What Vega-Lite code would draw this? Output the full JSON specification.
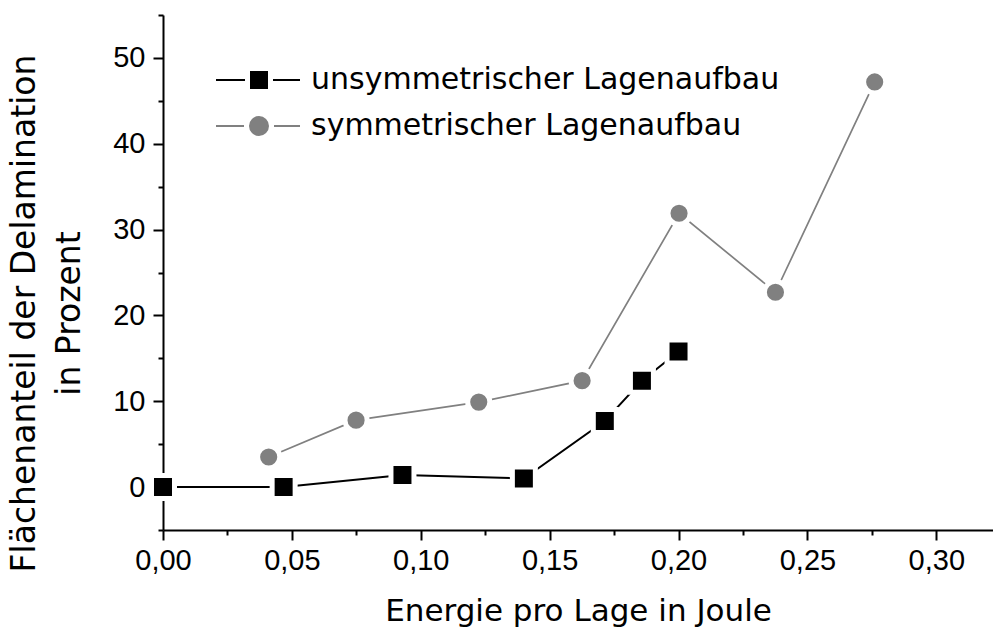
{
  "$schema": "https://vega.github.io/schema/vega-lite/v6.json",
  "width": 830,
  "height": 515,
  "autosize": {"type": "none"},
  "padding": {"left": 163, "top": 15, "right": 0, "bottom": 98},
  "background": "white",
  "config": {
    "view": {"stroke": null},
    "font": "Liberation Sans",
    "axis": {
      "grid": false,
      "domainColor": "black",
      "domainWidth": 2,
      "tickColor": "black",
      "tickWidth": 2,
      "labelColor": "black",
      "titleColor": "black",
      "labelFont": "Liberation Sans",
      "titleFont": "DejaVu Sans",
      "labelFontSize": 29,
      "titleFontWeight": "normal",
      "labelOverlap": false,
      "labelFlush": false
    }
  },
  "data": {
    "values": [
      {"reihe": "unsymmetrischer Lagenaufbau", "energie": 0.0, "anteil": 0.0},
      {"reihe": "unsymmetrischer Lagenaufbau", "energie": 0.0468, "anteil": 0.0},
      {"reihe": "unsymmetrischer Lagenaufbau", "energie": 0.0929, "anteil": 1.4},
      {"reihe": "unsymmetrischer Lagenaufbau", "energie": 0.14, "anteil": 1.0},
      {"reihe": "unsymmetrischer Lagenaufbau", "energie": 0.1714, "anteil": 7.7},
      {"reihe": "unsymmetrischer Lagenaufbau", "energie": 0.1858, "anteil": 12.4},
      {"reihe": "unsymmetrischer Lagenaufbau", "energie": 0.2, "anteil": 15.8},
      {"reihe": "symmetrischer Lagenaufbau", "energie": 0.041, "anteil": 3.5},
      {"reihe": "symmetrischer Lagenaufbau", "energie": 0.0749, "anteil": 7.8},
      {"reihe": "symmetrischer Lagenaufbau", "energie": 0.1225, "anteil": 9.9},
      {"reihe": "symmetrischer Lagenaufbau", "energie": 0.1626, "anteil": 12.4},
      {"reihe": "symmetrischer Lagenaufbau", "energie": 0.2002, "anteil": 31.9},
      {"reihe": "symmetrischer Lagenaufbau", "energie": 0.2376, "anteil": 22.7},
      {"reihe": "symmetrischer Lagenaufbau", "energie": 0.2761, "anteil": 47.2}
    ]
  },
  "encoding": {
    "x": {
      "field": "energie",
      "type": "quantitative",
      "scale": {"domain": [0, 0.322], "nice": false, "zero": false},
      "axis": {
        "title": "Energie pro Lage in Joule",
        "titleFontSize": 31,
        "values": [0, 0.025, 0.05, 0.075, 0.1, 0.125, 0.15, 0.175, 0.2, 0.225, 0.25, 0.275, 0.3],
        "labelExpr": "abs(datum.value * 20 - round(datum.value * 20)) < 0.001 ? replace(format(datum.value, '.2f'), '.', ',') : ''",
        "tickSize": {"condition": {"test": "abs(datum.value * 20 - round(datum.value * 20)) < 0.001", "value": 10}, "value": 5},
        "labelPadding": 6,
        "titlePadding": 21
      }
    },
    "y": {
      "field": "anteil",
      "type": "quantitative",
      "scale": {"domain": [-5, 55], "nice": false, "zero": false},
      "axis": {
        "title": ["Flächenanteil der Delamination", "in Prozent"],
        "titleFontSize": 33,
        "values": [-5, 0, 5, 10, 15, 20, 25, 30, 35, 40, 45, 50, 55],
        "labelExpr": "datum.value % 10 === 0 ? datum.label : ''",
        "tickSize": {"condition": {"test": "datum.value % 10 === 0", "value": 10}, "value": 5},
        "labelPadding": 8,
        "titlePadding": 26,
        "titleY": 298,
        "titleLineHeight": 45
      }
    },
    "color": {
      "field": "reihe",
      "type": "nominal",
      "scale": {
        "domain": ["unsymmetrischer Lagenaufbau", "symmetrischer Lagenaufbau"],
        "range": ["#000000", "#808080"]
      },
      "legend": {
        "title": null,
        "orient": "none",
        "legendX": 81,
        "legendY": 50,
        "padding": 0,
        "labelFont": "DejaVu Sans",
        "labelFontSize": 30,
        "labelColor": "black",
        "labelLimit": 0,
        "labelOffset": 37,
        "symbolSize": 400,
        "rowPadding": 16,
        "encode": {
          "symbols": {
            "update": {
              "shape": {"signal": "datum.value === 'unsymmetrischer Lagenaufbau' ? 'M-4.3,0H-1.4M1.4,0H4.1M-0.8,-0.8H0.8V0.8H-0.8Z' : 'M-4.3,0H-1.5M1.5,0H4.1M-0.9,0A0.9,0.9,0,1,0,0.9,0A0.9,0.9,0,1,0,-0.9,0Z'"},
              "fill": {"signal": "datum.value === 'unsymmetrischer Lagenaufbau' ? '#000000' : '#808080'"},
              "stroke": {"signal": "datum.value === 'unsymmetrischer Lagenaufbau' ? '#000000' : '#808080'"},
              "strokeWidth": {"value": 2},
              "size": {"value": 400},
              "opacity": {"value": 1}
            }
          }
        }
      }
    }
  },
  "layer": [
    {
      "transform": [{"filter": "datum.reihe === 'unsymmetrischer Lagenaufbau'"}],
      "mark": {"type": "line", "strokeWidth": 2}
    },
    {
      "transform": [{"filter": "datum.reihe === 'symmetrischer Lagenaufbau'"}],
      "mark": {"type": "line", "strokeWidth": 1.7}
    },
    {
      "transform": [{"filter": "datum.reihe === 'unsymmetrischer Lagenaufbau'"}],
      "mark": {"type": "point", "shape": "square", "filled": true, "size": 529, "stroke": "white", "strokeWidth": 5, "opacity": 1}
    },
    {
      "transform": [{"filter": "datum.reihe === 'symmetrischer Lagenaufbau'"}],
      "mark": {"type": "point", "shape": "circle", "filled": true, "size": 491, "stroke": "white", "strokeWidth": 5, "opacity": 1}
    }
  ]
}
